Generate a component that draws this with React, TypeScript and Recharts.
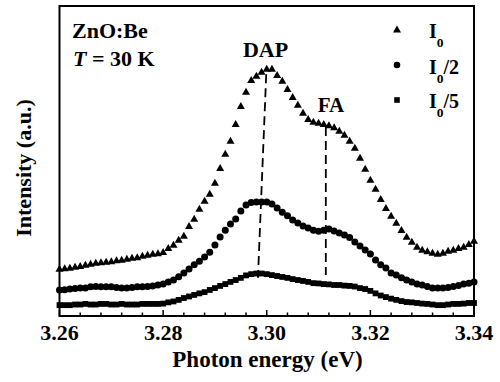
import { ScatterChart, Scatter, XAxis, YAxis, ReferenceLine, ReferenceArea } from 'recharts';

const energy = [
  3.260, 3.261, 3.262, 3.263, 3.264, 3.265, 3.266, 3.267, 3.268, 3.269,
  3.270, 3.271, 3.272, 3.273, 3.274, 3.275, 3.276, 3.277, 3.278, 3.279,
  3.280, 3.281, 3.282, 3.283, 3.284, 3.285, 3.286, 3.287, 3.288, 3.289,
  3.290, 3.291, 3.292, 3.293, 3.294, 3.295, 3.296, 3.297, 3.298, 3.299,
  3.300, 3.301, 3.302, 3.303, 3.304, 3.305, 3.306, 3.307, 3.308, 3.309,
  3.310, 3.311, 3.312, 3.313, 3.314, 3.315, 3.316, 3.317, 3.318, 3.319,
  3.320, 3.321, 3.322, 3.323, 3.324, 3.325, 3.326, 3.327, 3.328, 3.329,
  3.330, 3.331, 3.332, 3.333, 3.334, 3.335, 3.336, 3.337, 3.338, 3.339,
  3.340,
];

// I0
const fullPower = [
  15.2, 15.3, 15.5, 15.8, 16.1, 16.5, 16.8, 17.1, 17.3, 17.4,
  17.6, 17.9, 18.1, 18.4, 18.7, 18.9, 19.4, 19.7, 20.0, 20.2,
  20.6, 21.9, 22.9, 24.5, 25.8, 29.0, 31.3, 34.5, 37.1, 39.4,
  42.9, 47.7, 52.3, 56.5, 61.9, 67.7, 72.3, 76.1, 77.4, 78.7,
  79.7, 79.7, 77.7, 75.8, 73.2, 70.6, 68.1, 65.5, 63.5, 62.6,
  62.3, 61.9, 61.5, 60.8, 59.7, 58.4, 56.5, 54.2, 51.0, 47.4,
  43.9, 41.0, 37.7, 34.8, 32.3, 30.0, 27.7, 25.5, 23.9, 22.3,
  21.3, 20.8, 20.3, 20.0, 20.3, 21.0, 21.3, 21.9, 22.3, 23.2,
  24.2,
];

// I0/2
const halfPower = [
  8.4, 8.5, 8.7, 8.9, 9.0, 9.0, 9.4, 9.5, 9.4, 9.4,
  9.4, 9.2, 9.0, 9.0, 9.2, 9.4, 9.4, 9.5, 9.7, 10.0,
  10.3, 11.0, 11.6, 12.7, 13.9, 15.2, 16.5, 17.7, 19.0, 20.6,
  22.9, 25.5, 27.7, 29.7, 31.3, 33.9, 35.8, 36.6, 36.8, 36.8,
  36.8, 36.1, 34.8, 33.5, 32.3, 31.0, 30.0, 29.0, 28.4, 27.7,
  27.3, 27.7, 28.1, 27.4, 26.8, 26.1, 25.3, 23.9, 22.6, 21.3,
  20.0, 18.1, 16.5, 15.5, 13.9, 13.2, 12.3, 11.6, 11.0, 10.3,
  10.0, 9.5, 9.0, 9.0, 9.0, 9.2, 9.5, 9.8, 10.3, 10.6,
  11.0,
];

// I0/5
const fifthPower = [
  3.5, 3.5, 3.5, 3.7, 3.7, 3.9, 3.7, 3.7, 3.9, 3.9,
  3.7, 3.7, 3.9, 3.7, 3.7, 3.7, 3.9, 3.9, 3.9, 3.9,
  4.0, 4.4, 4.7, 5.2, 5.8, 6.3, 6.8, 7.3, 7.7, 8.4,
  9.0, 9.7, 10.3, 11.0, 11.6, 12.3, 13.1, 13.5, 13.7, 13.7,
  13.5, 13.2, 12.9, 12.6, 12.3, 11.9, 11.6, 11.3, 11.0, 10.6,
  10.5, 10.3, 10.2, 10.0, 10.0, 9.8, 9.7, 9.5, 9.0, 8.7,
  8.1, 7.3, 6.6, 6.1, 5.6, 5.2, 4.8, 4.5, 4.4, 4.2,
  4.0, 3.9, 3.7, 3.5, 3.5, 3.7, 3.9, 3.9, 4.0, 4.2,
  4.2,
];

const majorTicks = [3.26, 3.28, 3.3, 3.32, 3.34];
const tickLabels = ['3.26', '3.28', '3.30', '3.32', '3.34'];
const minorTicks = [
  3.264, 3.268, 3.272, 3.276, 3.284, 3.288, 3.292, 3.296,
  3.304, 3.308, 3.312, 3.316, 3.324, 3.328, 3.332, 3.336,
];

const toPoints = (values: number[]) => energy.map((e, i) => ({ e, v: values[i] }));

const FONT = "'Liberation Serif', 'Times New Roman', serif";

function Triangle(props: any) {
  const { cx, cy } = props;
  return <polygon points={`${cx},${cy - 4.2} ${cx - 4},${cy + 2.8} ${cx + 4},${cy + 2.8}`} fill="#000" />;
}

function Dot(props: any) {
  return <circle cx={props.cx} cy={props.cy} r={3.5} fill="#000" />;
}

function Square(props: any) {
  return <rect x={props.cx - 2.9} y={props.cy - 2.9} width={5.8} height={5.8} fill="#000" />;
}

function EnergyTick(props: any) {
  const { x, y, payload } = props;
  const idx = majorTicks.findIndex((t) => Math.abs(t - payload.value) < 1e-6);
  const major = idx >= 0;
  return (
    <g>
      <line x1={x} x2={x} y1={y} y2={y - (major ? 6 : 3.5)} stroke="#000" strokeWidth={1.5} />
      {major && (
        <text x={x} y={y + 24} textAnchor="middle" fontFamily={FONT} fontWeight="bold" fontSize={22} fill="#000">
          {tickLabels[idx]}
        </text>
      )}
    </g>
  );
}

export default function App() {
  return (
    <div style={{ width: 500, height: 382, background: '#fff' }}>
      <style>{'body{margin:0}'}</style>
      <ScatterChart width={500} height={382} margin={{ top: 6, right: 26, bottom: 6, left: 59.5 }}>
        <XAxis
          dataKey="e"
          type="number"
          domain={[3.26, 3.34]}
          ticks={[...majorTicks, ...minorTicks]}
          interval={0}
          height={60}
          axisLine={false}
          tickLine={false}
          tickSize={0}
          tickMargin={0}
          tick={<EnergyTick />}
        />
        <YAxis dataKey="v" type="number" domain={[0, 100]} hide />
        <ReferenceArea x1={3.26} x2={3.34} y1={0} y2={100} fill="none" stroke="#000" strokeWidth={2} fillOpacity={0} />
        <ReferenceLine
          segment={[{ x: 3.2999, y: 78 }, { x: 3.2983, y: 12.3 }]}
          stroke="#000"
          strokeWidth={1.8}
          strokeDasharray="9 5"
        />
        <ReferenceLine
          segment={[{ x: 3.3114, y: 61 }, { x: 3.3114, y: 13.2 }]}
          stroke="#000"
          strokeWidth={1.8}
          strokeDasharray="9 5"
        />
        <Scatter data={toPoints(fifthPower)} shape={<Square />} isAnimationActive={false} />
        <Scatter data={toPoints(halfPower)} shape={<Dot />} isAnimationActive={false} />
        <Scatter data={toPoints(fullPower)} shape={<Triangle />} isAnimationActive={false} />
        <g fontFamily={FONT} fontWeight="bold" fill="#000">
          <text x={72} y={38} fontSize={22}>ZnO:Be</text>
          <text x={73} y={66} fontSize={22}>
            <tspan fontStyle="italic">T</tspan> = 30 K
          </text>
          <text x={265.5} y={57} fontSize={22} textAnchor="middle">DAP</text>
          <text x={331} y={112} fontSize={21} textAnchor="middle">FA</text>

          <polygon points="397,25.5 393,32.5 401,32.5" />
          <circle cx={397} cy={65} r={3.3} />
          <rect x={394.2} y={97.2} width={5.6} height={5.6} />
          <text x={429} y={38} fontSize={20}>
            I<tspan fontSize={13.5} dy={9}>0</tspan>
          </text>
          <text x={429} y={74} fontSize={20}>
            I<tspan fontSize={13.5} dy={9}>0</tspan><tspan dy={-9}>/2</tspan>
          </text>
          <text x={429} y={108} fontSize={20}>
            I<tspan fontSize={13.5} dy={9}>0</tspan><tspan dy={-9}>/5</tspan>
          </text>

          <text x={267.5} y={367} fontSize={23} textAnchor="middle">Photon energy (eV)</text>
          <text x={31} y={168} fontSize={22} textAnchor="middle" transform="rotate(-90 31 168)">
            Intensity (a.u.)
          </text>
        </g>
      </ScatterChart>
    </div>
  );
}
